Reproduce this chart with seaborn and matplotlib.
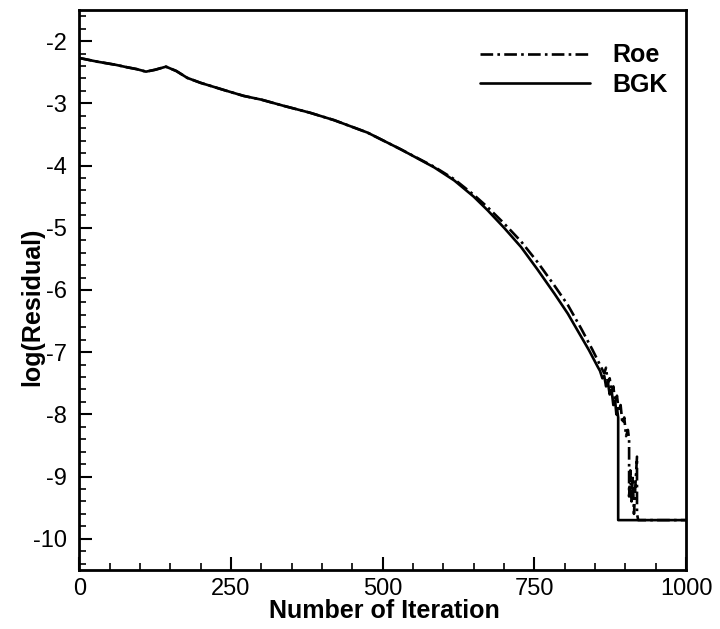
import seaborn as sns
import matplotlib.pyplot as plt
import pandas as pd

# residual history
bgk_iter = [0, 30, 60, 79, 95, 110, 125, 143, 160, 178, 200, 240, 271, 300, 337, 380,
            420, 475, 530, 585, 618, 650, 673, 700, 728, 755, 783, 805, 821, 840, 854,
            858, 862, 865, 868, 871, 874, 877, 880, 883, 885, 886, 888, 888, 1000]
bgk_res = [-2.27, -2.33, -2.38, -2.42, -2.45, -2.49, -2.46, -2.41, -2.48, -2.59, -2.67,
           -2.79, -2.88, -2.94, -3.04, -3.15, -3.27, -3.47, -3.74, -4.03, -4.24, -4.50,
           -4.72, -5.00, -5.31, -5.67, -6.06, -6.38, -6.65, -6.97, -7.23,
           -7.30, -7.42, -7.38, -7.55, -7.48, -7.68, -7.60, -7.85, -7.78, -8.00, -7.90,
           -8.05, -9.70, -9.70]

roe_iter = [0, 30, 60, 79, 95, 110, 125, 143, 160, 178, 200, 240, 271, 300, 337, 380,
            420, 475, 530, 585, 618, 650, 673, 700, 728, 755, 783, 805, 827, 845, 865,
            868, 871, 874, 877, 880, 883, 886, 889, 892, 895, 898, 901, 904, 906, 906,
            908, 910, 912, 914, 916, 919, 919, 921, 1000]
roe_res = [-2.27, -2.33, -2.38, -2.42, -2.45, -2.49, -2.46, -2.41, -2.48, -2.59, -2.67,
           -2.79, -2.88, -2.94, -3.04, -3.15, -3.27, -3.47, -3.74, -4.02, -4.22, -4.47,
           -4.67, -4.93, -5.22, -5.55, -5.93, -6.24, -6.62, -6.95, -7.34,
           -7.25, -7.50, -7.42, -7.65, -7.55, -7.80, -7.70, -7.95, -7.85, -8.15, -8.05,
           -8.35, -8.25, -8.40, -9.32, -8.90, -9.40, -9.00, -9.60, -9.20, -8.68, -9.60,
           -9.70, -9.70]

df = pd.concat([
    pd.DataFrame({'iter': roe_iter, 'res': roe_res, 'scheme': 'Roe'}),
    pd.DataFrame({'iter': bgk_iter, 'res': bgk_res, 'scheme': 'BGK'}),
], ignore_index=True)

sns.set_style('ticks')
plt.rcParams['font.family'] = ['Liberation Sans', 'DejaVu Sans']
plt.rcParams['axes.unicode_minus'] = False
plt.rcParams['text.color'] = 'black'
plt.rcParams['axes.labelcolor'] = 'black'

fig = plt.figure(figsize=(7.2, 6.29), dpi=100)
ax = fig.add_axes([0.110, 0.094, 0.843, 0.890])

sns.lineplot(data=df, x='iter', y='res', hue='scheme', style='scheme',
             hue_order=['Roe', 'BGK'], style_order=['Roe', 'BGK'],
             palette={'Roe': 'black', 'BGK': 'black'},
             dashes={'Roe': (4.8, 1.6, 1.0, 1.6), 'BGK': ''},
             estimator=None, sort=False, linewidth=1.9, ax=ax)

ax.set_xlim(0, 1000)
ax.set_ylim(-10.5, -1.5)
ax.set_xticks([0, 250, 500, 750, 1000])
ax.set_xticks(range(0, 1001, 50), minor=True)
ax.set_yticks(range(-10, -1))
ax.set_yticks([-10.4 + 0.2 * i for i in range(45)], minor=True)

for s in ax.spines.values():
    s.set_visible(True)
    s.set_linewidth(2.0)
    s.set_color('black')

ax.tick_params(which='major', direction='in', length=9.5, width=1.5, labelsize=17,
               colors='black')
ax.tick_params(axis='x', which='major', pad=6)
ax.tick_params(axis='y', which='major', pad=9)
ax.tick_params(which='minor', direction='in', length=5, width=1.2, colors='black')

ax.set_xlabel('Number of Iteration', fontsize=18, fontweight='bold', color='black')
ax.set_ylabel('log(Residual)', fontsize=18, fontweight='bold', color='black')
ax.xaxis.set_label_coords(0.502, -0.073)
ax.xaxis.label.set_va('center')
ax.yaxis.set_label_coords(-0.077, 0.47)
ax.yaxis.label.set_va('center')

handles, labels = ax.get_legend_handles_labels()
leg = ax.legend(handles, labels, loc='upper left', bbox_to_anchor=(0.64, 0.963),
                frameon=False, handlelength=4.4, handletextpad=0.9,
                labelspacing=0.22, borderpad=0,
                prop={'size': 18, 'weight': 'bold'})
for t in leg.get_texts():
    t.set_color('black')

plt.savefig('out.png', dpi=100)
plt.close()
